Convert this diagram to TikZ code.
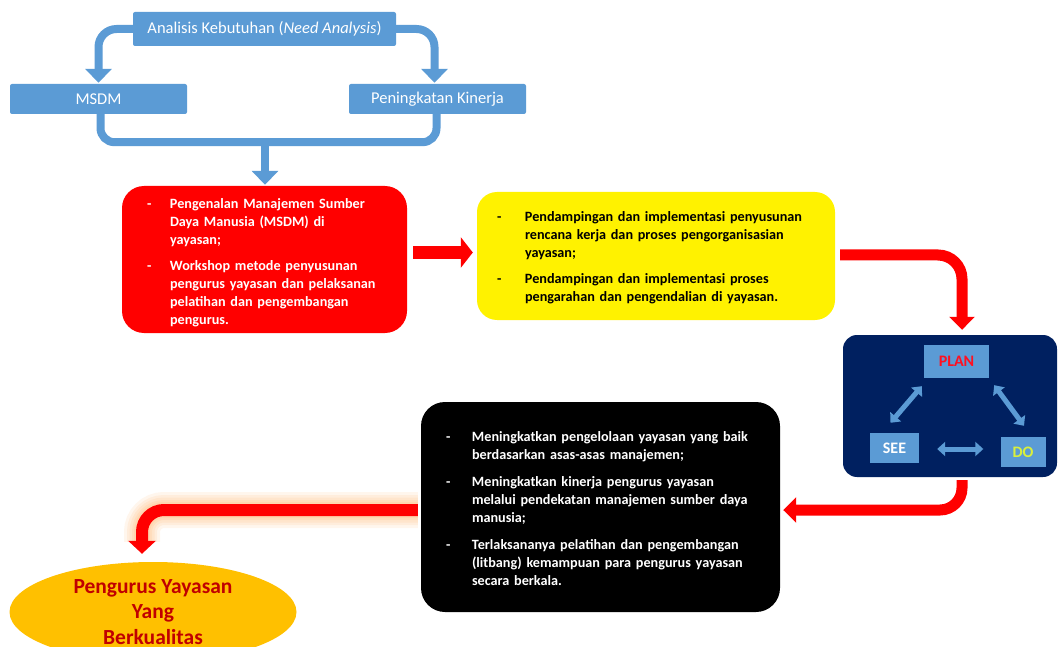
\documentclass[tikz,border=0pt]{standalone}
\usepackage{fontspec}
\setmainfont{Carlito}
\usetikzlibrary{arrows.meta,shapes.geometric,calc}
\definecolor{bluec}{HTML}{5B9BD5}
\definecolor{navyc}{HTML}{002060}
\definecolor{goldc}{HTML}{FFC000}
\definecolor{darkredc}{HTML}{C00000}
\definecolor{limec}{HTML}{D9F03C}
\definecolor{planred}{HTML}{FF1020}
\begin{document}
\begin{tikzpicture}[x=1pt,y=-1pt,
  bbox/.style={fill=bluec,draw=none,text=white,font=\fontsize{16.5}{19}\selectfont,inner sep=0pt,rounded corners=2pt},
  bline/.style={draw=bluec,line width=8pt},
  bhead/.style={-{Triangle[width=26pt,length=14pt]}},
  txtbox/.style={draw=none,inner ysep=0pt,align=left,font=\fontsize{14.2}{18}\selectfont\bfseries},
  redarrow/.style={draw=red,line width=11pt,-{Triangle[width=25pt,length=13pt]}},
  pdca/.style={fill=bluec,draw=none,inner sep=0pt,font=\fontsize{16}{18}\selectfont\bfseries},
  dbl/.style={draw=bluec,line width=5pt,{Triangle[width=14pt,length=8pt]}-{Triangle[width=14pt,length=8pt]}},
  glow/.style={draw=orange,line width=#1,opacity=0.07,rounded corners=22pt}
]
\useasboundingbox (0,0) rectangle (1058,647);
\fill[white] (0,0) rectangle (1058,647);

% top part
\node[bbox,minimum width=263,minimum height=34] (ana) at (264.5,29) {Analisis Kebutuhan (\textit{Need Analysis})};
\node[bbox,minimum width=177,minimum height=30] (msdm) at (98.5,99) {MSDM};
\node[bbox,minimum width=177,minimum height=30] (pen) at (437.5,99) {Peningkatan Kinerja};

% red box
\node[txtbox,fill=red,text=white,rounded corners=22pt,minimum width=285,minimum height=147,
      inner xsep=25pt,text width=235pt] (red) at (264.5,259.5) {%
\raisebox{-3pt}[\height][\depth]{\begin{tabular}{@{}p{23pt}@{}l@{}}
-& Pengenalan Manajemen Sumber\\
 & Daya Manusia (MSDM) di\\
 & yayasan;\\[8pt]
-& Workshop metode penyusunan\\
 & pengurus yayasan dan pelaksanan\\
 & pelatihan dan pengembangan\\
 & pengurus.
\end{tabular}}};

% yellow box
\node[txtbox,fill=yellow,text=black,rounded corners=20pt,minimum width=358,minimum height=128,
      inner xsep=20pt,text width=318pt] (yel) at (656,256) {%
\raisebox{-2pt}[\height][\depth]{\begin{tabular}{@{}p{28pt}@{}l@{}}
-& Pendampingan dan implementasi penyusunan\\
 & rencana kerja dan proses pengorganisasian\\
 & yayasan;\\[8pt]
-& Pendampingan dan implementasi proses\\
 & pengarahan dan pengendalian di yayasan.
\end{tabular}}};

% navy box with PDCA
\node[fill=navyc,draw=none,rounded corners=14pt,minimum width=214,minimum height=142,inner sep=0pt] (navy) at (950,406) {};
\node[pdca,minimum width=65,minimum height=33,text=planred] (plan) at (956.5,361.5) {PLAN};
\node[pdca,minimum width=49,minimum height=30,text=white] (see) at (894.5,448) {SEE};
\node[pdca,minimum width=45,minimum height=30,text=limec] (do) at (1023,452) {DO};
\draw[dbl] ($(plan.south west)+(-2,8)$) -- ($(see.north)+(-4,-10)$);
\draw[dbl] ($(plan.south east)+(5,7)$) -- ($(do.north)+(1,-11)$);
\draw[dbl] ($(see.east)+(18,1)$) -- ($(do.west)+(-17,-3)$);

% black box
\node[txtbox,fill=black,text=white,rounded corners=24pt,minimum width=359,minimum height=210,
      inner xsep=25pt,text width=309pt] (blk) at (600.5,507) {%
\raisebox{-3pt}[\height][\depth]{\begin{tabular}{@{}p{26pt}@{}l@{}}
-& Meningkatkan pengelolaan yayasan yang baik\\
 & berdasarkan asas-asas manajemen;\\[9pt]
-& Meningkatkan kinerja pengurus yayasan\\
 & melalui pendekatan manajemen sumber daya\\
 & manusia;\\[9pt]
-& Terlaksananya pelatihan dan pengembangan\\
 & (litbang) kemampuan para pengurus yayasan\\
 & secara berkala.
\end{tabular}}};

% goal ellipse
\node[ellipse,fill=goldc,draw=none,minimum width=287,minimum height=100,inner sep=0pt,
      text=darkredc,align=center,font=\fontsize{21.5}{25.5}\selectfont\bfseries] (goal) at (153,612)
      {Pengurus Yayasan\\Yang\\Berkualitas};

% blue connectors
\draw[bline,bhead,rounded corners=18pt] (ana.west) -| ($(msdm.north)+(0,-1)$);
\draw[bline,bhead,rounded corners=18pt] (ana.east) -| ($(pen.north)+(-3,-1)$);
\draw[bline,rounded corners=14pt] ($(msdm.south)+(2,-2)$) -- ++(0,30) -| ($(pen.south)+(-1,-2)$);
\coordinate (join) at ($(msdm.south)!0.5!(pen.south)+(-3,28)$);
\draw[bline,bhead] (join) -- ($(join |- red.north)+(0,-1)$);

% red connectors
\draw[redarrow,line width=13pt,-{Triangle[width=30pt,length=12pt]}] ($(red.east)+(6,-7)$) -- ($(yel.west)+(-4,-3.5)$);
\draw[redarrow,rounded corners=24pt] ($(yel.east)+(5,-1)$) -| ($(navy.north)+(12,-5)$);
\draw[redarrow,rounded corners=22pt] ($(navy.south)+(12,3)$) |- ($(blk.east)+(3,3)$);

% glowing arrow to goal
\coordinate (g1) at ($(blk.west)+(-3,3)$);
\coordinate (g2) at ($(goal.north)+(-11,-8)$);
\foreach \w in {36,30,25,20,16} {
  \draw[glow=\w pt] (g1) -| ($(g2)+(0,-12)$);
}
\draw[redarrow,line width=12pt,-{Triangle[width=27pt,length=13pt]},rounded corners=22pt] (g1) -| (g2);
\end{tikzpicture}
\end{document}
